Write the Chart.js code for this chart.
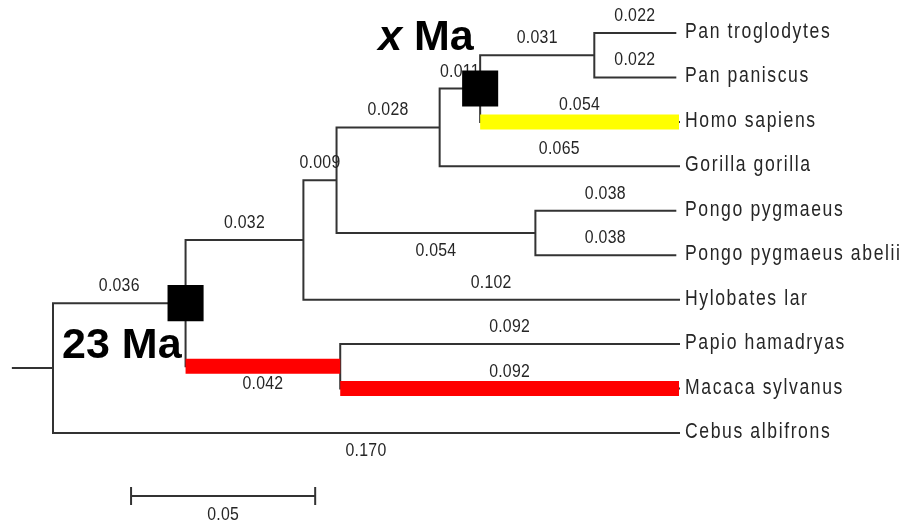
<!DOCTYPE html>
<html>
<head>
<meta charset="utf-8">
<title>Primate phylogeny</title>
<script src="https://cdn.jsdelivr.net/npm/chart.js@4/dist/chart.umd.min.js"></script>
<style>
  html, body { margin: 0; padding: 0; background: #ffffff; }
  #wrap { width: 910px; height: 525px; position: relative; }
</style>
</head>
<body>
<div id="wrap"><canvas id="tree" width="910" height="525"></canvas></div>
<script>
// ---- tree data ----
const taxa = ['Pan troglodytes', 'Pan paniscus', 'Homo sapiens', 'Gorilla gorilla',
  'Pongo pygmaeus', 'Pongo pygmaeus abelii', 'Hylobates lar', 'Papio hamadryas',
  'Macaca sylvanus', 'Cebus albifrons'];
const taxonParents = ['Pan', 'Pan', 'HomoPan', 'Homininae', 'Pongo', 'Pongo',
  'Hominoidea', 'Cercopithecidae', 'Cercopithecidae', 'root'];
const taxonLengths = [0.022, 0.022, 0.054, 0.065, 0.038, 0.038, 0.102, 0.092, 0.092, 0.170];

const nodeNames = ['root', 'Catarrhini', 'Hominoidea', 'Hominidae', 'Homininae',
  'HomoPan', 'Pan', 'Pongo', 'Cercopithecidae'];
const nodeParents = [null, 'root', 'Catarrhini', 'Hominoidea', 'Hominidae',
  'Homininae', 'HomoPan', 'Hominidae', 'Catarrhini'];
const nodeLengths = [0, 0.036, 0.032, 0.009, 0.028, 0.011, 0.031, 0.054, 0.042];

// branch-length labels written under the branch instead of above it
const labelsBelow = ['Pongo', 'Cercopithecidae', 'Cebus albifrons'];

// highlighted branches
const yellowBranches = ['Homo sapiens'];
const redBranches = ['Cercopithecidae', 'Macaca sylvanus'];

// calibration nodes
const markedNodes = ['Catarrhini', 'HomoPan'];
const dateLabels = ['23 Ma', 'x Ma'];

// scale bar
const scaleBarLength = 0.05;
const scaleBarStart = 0.0212;
const scaleBarRow = 10.42;
const rootStub = -0.0109;

// ---- build node table ----
const nodes = {};
nodeNames.forEach((n, i) => {
  nodes[n] = { name: n, parent: nodeParents[i], len: nodeLengths[i], children: [], leaf: false };
});
taxa.forEach((t, i) => {
  nodes[t] = { name: t, parent: taxonParents[i], len: taxonLengths[i], children: [], leaf: true, y: i };
});
Object.values(nodes).forEach(n => { if (n.parent) nodes[n.parent].children.push(n.name); });

function setX(name, x0) {
  const n = nodes[name];
  n.x = x0 + n.len;
  n.children.forEach(c => setX(c, n.x));
}
setX('root', 0);

function setY(name) {
  const n = nodes[name];
  if (n.leaf) return n.y;
  const ys = n.children.map(setY);
  n.yMin = Math.min(...ys);
  n.yMax = Math.max(...ys);
  n.y = (n.yMin + n.yMax) / 2;
  return n.y;
}
setY('root');
const tipX = Math.max(...taxa.map(t => nodes[t].x));

function branchPoints(name) {
  const n = nodes[name];
  const px = n.parent ? nodes[n.parent].x : rootStub;
  return [{ x: px, y: n.y }, { x: n.x, y: n.y }];
}
function gap(p) { return { x: p.x, y: null }; }

// tree segments: one horizontal per branch, one vertical per internal node
const treePts = [];
Object.values(nodes).forEach(n => {
  const b = branchPoints(n.name);
  treePts.push(b[0], b[1], gap(b[1]));
  if (!n.leaf) {
    treePts.push({ x: n.x, y: n.yMin }, { x: n.x, y: n.yMax }, { x: n.x, y: null });
  }
});

function bandPts(list) {
  const pts = [];
  list.forEach(name => {
    const b = branchPoints(name);
    pts.push(b[0], b[1], gap(b[1]));
  });
  return pts;
}

const tick = 0.18;
const sbEnd = scaleBarStart + scaleBarLength;
const scalePts = [
  { x: scaleBarStart, y: scaleBarRow - tick }, { x: scaleBarStart, y: scaleBarRow + tick }, { x: scaleBarStart, y: null },
  { x: scaleBarStart, y: scaleBarRow }, { x: sbEnd, y: scaleBarRow }, { x: sbEnd, y: null },
  { x: sbEnd, y: scaleBarRow - tick }, { x: sbEnd, y: scaleBarRow + tick }
];

const squarePts = markedNodes.map(n => ({ x: nodes[n].x, y: nodes[n].y }));

const LINE = '#333333';
const TEXT = '#262626';
const FONT = '"Liberation Sans", Arial, sans-serif';

// condensed text: narrow the glyphs horizontally, open up the tracking
function narrowText(ctx, str, x, y, sx, spacing, align) {
  ctx.save();
  if ('letterSpacing' in ctx) ctx.letterSpacing = spacing + 'px';
  const w = ctx.measureText(str).width;
  let left = x / sx;
  if (align === 'center') left -= w / 2;
  ctx.scale(sx, 1);
  ctx.textAlign = 'left';
  ctx.fillText(str, left, y);
  ctx.restore();
}

const treeText = {
  id: 'treeText',
  afterDatasetDraw(chart, args) {
    const ctx = chart.ctx;
    const xs = chart.scales.x, ys = chart.scales.y;
    const role = chart.data.datasets[args.index].role;
    if (role === 'tree') {
      ctx.save();
      ctx.fillStyle = TEXT;
      ctx.font = '18px ' + FONT;
      ctx.textBaseline = 'middle';
      Object.values(nodes).forEach(n => {
        if (!n.parent) return;
        const x0 = xs.getPixelForValue(nodes[n.parent].x);
        const x1 = xs.getPixelForValue(n.x);
        const y = ys.getPixelForValue(n.y);
        const below = labelsBelow.includes(n.name);
        narrowText(ctx, n.len.toFixed(3), (x0 + x1) / 2, y + (below ? 18 : -17), 0.88, 0.3, 'center');
      });
      // taxon names, aligned in one column
      ctx.font = '22px ' + FONT;
      ctx.textBaseline = 'alphabetic';
      const lx = xs.getPixelForValue(tipX) + 6;
      taxa.forEach(t => {
        narrowText(ctx, t, lx, ys.getPixelForValue(nodes[t].y) + 5, 0.8, 2, 'left');
      });
      ctx.restore();
    }
    if (role === 'scale') {
      ctx.save();
      ctx.fillStyle = TEXT;
      ctx.font = '18px ' + FONT;
      ctx.textBaseline = 'middle';
      const cx = (xs.getPixelForValue(scaleBarStart) + xs.getPixelForValue(sbEnd)) / 2;
      narrowText(ctx, String(scaleBarLength), cx, ys.getPixelForValue(scaleBarRow) + 19, 0.88, 0.3, 'center');
      ctx.restore();
    }
  },
  afterDatasetsDraw(chart) {
    const ctx = chart.ctx;
    const xs = chart.scales.x, ys = chart.scales.y;
    ctx.save();
    ctx.fillStyle = '#000000';
    ctx.textBaseline = 'alphabetic';
    // calibration dates beside the marked nodes
    const a = nodes[markedNodes[0]];
    ctx.font = 'bold 43px ' + FONT;
    ctx.textAlign = 'right';
    ctx.fillText(dateLabels[0], xs.getPixelForValue(a.x) - 4, ys.getPixelForValue(a.y) + 55);

    const b = nodes[markedNodes[1]];
    const parts = dateLabels[1].split(' ');
    let tx = xs.getPixelForValue(b.x) - 102;
    const ty = ys.getPixelForValue(b.y) - 39;
    ctx.textAlign = 'left';
    ctx.font = 'italic bold 43px ' + FONT;
    ctx.fillText(parts[0], tx, ty);
    tx += ctx.measureText(parts[0]).width;
    ctx.font = 'bold 43px ' + FONT;
    ctx.fillText(' ' + parts[1], tx, ty);
    ctx.restore();
  }
};

new Chart(document.getElementById('tree'), {
  type: 'line',
  data: {
    datasets: [
      { role: 'marks', data: squarePts, showLine: false, pointStyle: 'rect',
        pointRadius: 25.5, pointBackgroundColor: '#000000', pointBorderWidth: 0, clip: false },
      { role: 'yellow', data: bandPts(yellowBranches), borderColor: '#ffff00', borderWidth: 15,
        borderCapStyle: 'butt', pointRadius: 0, spanGaps: false, clip: false },
      { role: 'red', data: bandPts(redBranches), borderColor: '#ff0000', borderWidth: 15,
        borderCapStyle: 'butt', pointRadius: 0, spanGaps: false, clip: false },
      { role: 'tree', data: treePts, borderColor: LINE, borderWidth: 2,
        borderCapStyle: 'square', pointRadius: 0, spanGaps: false, clip: false },
      { role: 'scale', data: scalePts, borderColor: LINE, borderWidth: 2,
        borderCapStyle: 'square', pointRadius: 0, spanGaps: false, clip: false }
    ]
  },
  options: {
    responsive: false,
    animation: false,
    devicePixelRatio: 1,
    events: [],
    layout: { padding: { left: 53, right: 231, top: 33, bottom: 92 } },
    elements: { line: { tension: 0, fill: false } },
    plugins: { legend: { display: false }, tooltip: { enabled: false } },
    scales: {
      x: { type: 'linear', display: false, min: 0, max: 0.170 },
      y: { type: 'linear', display: false, min: 0, max: 9, reverse: true }
    }
  },
  plugins: [treeText]
});
</script>
</body>
</html>
